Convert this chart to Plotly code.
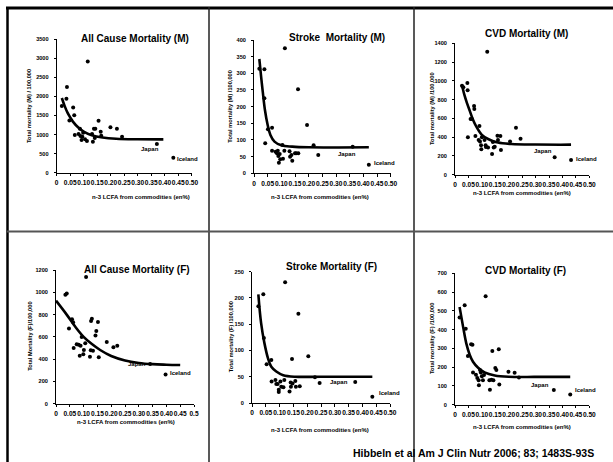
import plotly.graph_objects as go

W, H = 613, 462
FONT = "Liberation Sans, Arial, sans-serif"

# ---------------- DATA ----------------
x_ticks = [0, 0.05, 0.10, 0.15, 0.20, 0.25, 0.30, 0.35, 0.40, 0.45, 0.50]
x_ticktext = ["0", "0.05", "0.10", "0.15", "0.20", "0.25", "0.30", "0.35", "0.40", "0.45", "0.50"]
x_ticktext_f = ["0", "0.05", "0.10", "0.15", "0.20", "0.25", "0.30", "0.35", "0.40", "0.45", "0.5"]

# All cause mortality (M)
allm_x = [0.019, 0.038, 0.036, 0.047, 0.061, 0.065, 0.067, 0.081, 0.086, 0.088, 0.092, 0.095, 0.098,
          0.105, 0.112, 0.115, 0.131, 0.134, 0.138, 0.143, 0.141, 0.155, 0.163, 0.165, 0.199, 0.223, 0.242]
allm_y = [1750, 2250, 1940, 1370, 1710, 1510, 990, 1015, 1150, 960, 860, 945, 1050,
          875, 830, 2920, 1015, 815, 1155, 1155, 910, 1365, 1075, 970, 1190, 1155, 945]
allm_fit_x = [0.019, 0.03, 0.04, 0.05, 0.06, 0.08, 0.10, 0.13, 0.17, 0.22, 0.30, 0.395]
allm_fit_y = [1960, 1740, 1575, 1450, 1340, 1185, 1080, 985, 925, 892, 878, 875]
allm_japan = (0.371, 752)
allm_iceland = (0.432, 394)

# Stroke mortality (M)
strm_x = [0.0195, 0.038, 0.038, 0.041, 0.051, 0.066, 0.066, 0.079, 0.084, 0.087, 0.089, 0.091, 0.094,
          0.096, 0.104, 0.106, 0.111, 0.113, 0.130, 0.132, 0.137, 0.140, 0.150, 0.154, 0.161, 0.162,
          0.194, 0.218, 0.235]
strm_y = [314, 312, 225, 90, 132, 137, 68, 65, 60, 68, 52, 32, 58,
          42, 85, 44, 68, 375, 66, 50, 55, 38, 60, 60, 252, 60,
          145, 84, 55]
strm_fit_x = [0.0195, 0.026, 0.032, 0.04, 0.05, 0.06, 0.075, 0.10, 0.14, 0.20, 0.42]
strm_fit_y = [343, 290, 245, 190, 145, 115, 95, 84, 80, 78, 78]
strm_japan = (0.361, 80)
strm_iceland = (0.420, 26)

# CVD mortality (M)
cvdm_x = [0.026, 0.031, 0.046, 0.047, 0.048, 0.058, 0.063, 0.071, 0.072, 0.076, 0.088, 0.091, 0.093,
          0.097, 0.098, 0.100, 0.110, 0.114, 0.115, 0.120, 0.123, 0.138, 0.141, 0.144, 0.148, 0.158,
          0.160, 0.169, 0.171, 0.205, 0.227, 0.244]
cvdm_y = [949, 931, 977, 899, 398, 593, 593, 732, 700, 412, 370, 519, 355,
          313, 270, 398, 370, 313, 295, 1311, 291, 220, 348, 291, 298, 416,
          370, 412, 263, 355, 501, 384]
cvdm_fit_x = [0.026, 0.035, 0.045, 0.055, 0.065, 0.08, 0.10, 0.125, 0.16, 0.21, 0.30, 0.432]
cvdm_fit_y = [956, 850, 760, 680, 600, 510, 425, 378, 342, 327, 321, 320]
cvdm_japan = (0.371, 185)
cvdm_iceland = (0.432, 156)

# All cause mortality (F)
allf_x = [0.034, 0.039, 0.047, 0.058, 0.062, 0.064, 0.075, 0.082, 0.086, 0.089, 0.093, 0.099, 0.101,
          0.106, 0.109, 0.123, 0.126, 0.127, 0.130, 0.134, 0.143, 0.146, 0.152, 0.155, 0.184, 0.208, 0.222]
allf_y = [978, 990, 676, 757, 730, 500, 533, 530, 431, 521, 598, 443, 482,
          542, 1137, 422, 479, 742, 763, 476, 613, 652, 733, 416, 554, 506, 521]
allf_fit_x = [0.0, 0.04, 0.07, 0.10, 0.13, 0.16, 0.20, 0.25, 0.30, 0.35, 0.40, 0.45]
allf_fit_y = [925, 795, 690, 600, 535, 482, 428, 388, 366, 355, 350, 347]
allf_japan = (0.341, 356)
allf_iceland = (0.397, 263)

# Stroke mortality (F)
strf_x = [0.023, 0.041, 0.043, 0.053, 0.070, 0.071, 0.085, 0.088, 0.093, 0.097, 0.097, 0.103, 0.106,
          0.114, 0.117, 0.120, 0.136, 0.140, 0.141, 0.145, 0.147, 0.157, 0.159, 0.168, 0.173, 0.204,
          0.228, 0.245]
strf_y = [184, 207, 124, 74, 82, 41, 44, 36, 36, 21, 25, 41, 31,
          30, 44, 230, 22, 39, 31, 84, 37, 42, 31, 170, 32, 89,
          49, 38]
strf_fit_x = [0.023, 0.033, 0.045, 0.058, 0.070, 0.088, 0.113, 0.156, 0.25, 0.436]
strf_fit_y = [207, 152, 114, 85, 69, 60, 53, 50, 50, 50]
strf_japan = (0.374, 40)
strf_iceland = (0.436, 12)

# CVD mortality (F)
cvdf_x = [0.017, 0.036, 0.040, 0.048, 0.060, 0.065, 0.067, 0.078, 0.083, 0.088, 0.089, 0.093, 0.096,
          0.100, 0.104, 0.108, 0.114, 0.128, 0.130, 0.136, 0.139, 0.143, 0.150, 0.154, 0.163, 0.165,
          0.199, 0.222, 0.238]
cvdf_y = [465, 530, 405, 260, 322, 320, 172, 160, 142, 130, 103, 185, 172,
          152, 130, 158, 578, 130, 80, 133, 286, 130, 195, 185, 295, 108,
          175, 170, 145]
cvdf_fit_x = [0.017, 0.030, 0.042, 0.055, 0.067, 0.086, 0.110, 0.148, 0.20, 0.30, 0.429]
cvdf_fit_y = [520, 416, 327, 265, 229, 197, 172, 156, 149, 148, 148]
cvdf_japan = (0.368, 78)
cvdf_iceland = (0.429, 55)

titles = ["All Cause Mortality (M)", "Stroke  Mortality (M)", "CVD Mortality (M)",
          "All Cause Mortality (F)", "Stroke Mortality (F)", "CVD Mortality (F)"]
ytitles = ["Total mortality (M) / 100,000", "Total mortality (M) /100,000", "Total mortality (M) /100,000",
           "Total Mortality (F)/100,000", "Total mortality (F) /100,000", "Total mortality (F) /100,000"]
xtitle = "n-3 LCFA from commodities (en%)"
citation = "Hibbeln et al Am J Clin Nutr 2006; 83; 1483S-93S"

# ---------------- LAYOUT HELPERS ----------------
def fx(px):
    return px / W

def fy(py):
    return 1 - py / H

panels = [
    dict(l=56.7, r=191.7, b=172.7, t=39.3, ymax=3500, dt=500, tpos=(135, 39), xtpos=(140.5, 196.7), ytx=29,
         jp=(4, -5), ic=(1.5, -1), xtext=x_ticktext),
    dict(l=254, r=390.7, b=173.3, t=40, ymax=400, dt=50, tpos=(337, 37), xtpos=(320, 196.7), ytx=230,
         jp=(5.5, -7), ic=(3.5, 2), xtext=x_ticktext),
    dict(l=455, r=589.3, b=174.7, t=43.3, ymax=1400, dt=200, tpos=(526, 33.5), xtpos=(521.5, 192.7), ytx=432,
         jp=(-1, 6.5), ic=(2.5, 1), xtext=x_ticktext),
    dict(l=56, r=194, b=403.7, t=270, ymax=1200, dt=200, tpos=(137, 269.5), xtpos=(126, 422.3), ytx=30,
         jp=(-2.3, 0), ic=(2, 1.7), xtext=x_ticktext_f),
    dict(l=252, r=390, b=403, t=271.7, ymax=250, dt=50, tpos=(331, 266), xtpos=(320, 430.3), ytx=231,
         jp=(-5, 0), ic=(5, 4), xtext=x_ticktext),
    dict(l=455, r=589.3, b=404.7, t=273.3, ymax=700, dt=100, tpos=(525.5, 270), xtpos=(521.5, 426.7), ytx=432,
         jp=(-3, 4.7), ic=(3, 4.3), xtext=x_ticktext),
]

series = [
    (allm_x, allm_y, allm_fit_x, allm_fit_y, allm_japan, allm_iceland),
    (strm_x, strm_y, strm_fit_x, strm_fit_y, strm_japan, strm_iceland),
    (cvdm_x, cvdm_y, cvdm_fit_x, cvdm_fit_y, cvdm_japan, cvdm_iceland),
    (allf_x, allf_y, allf_fit_x, allf_fit_y, allf_japan, allf_iceland),
    (strf_x, strf_y, strf_fit_x, strf_fit_y, strf_japan, strf_iceland),
    (cvdf_x, cvdf_y, cvdf_fit_x, cvdf_fit_y, cvdf_japan, cvdf_iceland),
]

fig = go.Figure()
annotations = []
layout_axes = {}

for i, (p, s) in enumerate(zip(panels, series)):
    n = i + 1
    xa = "x" if n == 1 else f"x{n}"
    ya = "y" if n == 1 else f"y{n}"
    xs, ys, fxs, fys, jp, ic = s
    pts_x = xs + [jp[0], ic[0]]
    pts_y = ys + [jp[1], ic[1]]
    fig.add_trace(go.Scatter(x=pts_x, y=pts_y, mode="markers", xaxis=xa, yaxis=ya,
                             marker=dict(color="black", size=4), showlegend=False, cliponaxis=False))
    fig.add_trace(go.Scatter(x=fxs, y=fys, mode="lines", xaxis=xa, yaxis=ya,
                             line=dict(color="black", width=2.6, shape="spline", smoothing=1.0),
                             showlegend=False, cliponaxis=False))
    xkey = "xaxis" if n == 1 else f"xaxis{n}"
    ykey = "yaxis" if n == 1 else f"yaxis{n}"
    layout_axes[xkey] = dict(
        domain=[fx(p["l"]), fx(p["r"])], anchor=ya, range=[0, 0.5],
        tickmode="array", tickvals=x_ticks, ticktext=p["xtext"], tickangle=0,
        showline=True, linecolor="black", linewidth=1, ticks="outside", ticklen=2.5,
        tickcolor="black", tickwidth=1, showgrid=False, zeroline=False,
        tickfont=dict(family=FONT, size=6.6, color="black", weight="bold"), ticklabelstandoff=1,
    )
    layout_axes[ykey] = dict(
        domain=[fy(p["b"]), fy(p["t"])], anchor=xa, range=[0, p["ymax"]],
        tickmode="linear", tick0=0, dtick=p["dt"],
        showline=True, linecolor="black", linewidth=1, ticks="outside", ticklen=2,
        tickcolor="black", tickwidth=1, showgrid=False, zeroline=False,
        tickfont=dict(family=FONT, size=5.6, color="black", weight="bold"), ticklabelstandoff=4,
    )
    annotations.append(dict(text=f"<b>{titles[i]}</b>", xref="paper", yref="paper",
                            x=fx(p["tpos"][0]), y=fy(p["tpos"][1]), xanchor="center", yanchor="middle",
                            showarrow=False, font=dict(family=FONT, size=10, color="black")))
    annotations.append(dict(text=f"<b>{xtitle}</b>", xref="paper", yref="paper",
                            x=fx(p["xtpos"][0]), y=fy(p["xtpos"][1]), xanchor="center", yanchor="middle",
                            showarrow=False, font=dict(family=FONT, size=6, color="black")))
    annotations.append(dict(text=f"<b>{ytitles[i]}</b>", xref="paper", yref="paper",
                            x=fx(p["ytx"]), y=fy((p["b"] + p["t"]) / 2), xanchor="center", yanchor="middle",
                            textangle=-90, showarrow=False, font=dict(family=FONT, size=5.7, color="black")))
    annotations.append(dict(text="<b>Japan</b>", xref=xa, yref=ya, x=jp[0], y=jp[1],
                            xanchor="right", yanchor="middle", xshift=p["jp"][0], yshift=p["jp"][1],
                            showarrow=False, font=dict(family=FONT, size=6, color="black")))
    annotations.append(dict(text="<b>Iceland</b>", xref=xa, yref=ya, x=ic[0], y=ic[1],
                            xanchor="left", yanchor="middle", xshift=p["ic"][0], yshift=p["ic"][1],
                            showarrow=False, font=dict(family=FONT, size=6, color="black")))

annotations.append(dict(text=f"<b>{citation}</b>", xref="paper", yref="paper",
                        x=fx(351), y=fy(453), xanchor="left", yanchor="middle", showarrow=False,
                        font=dict(family=FONT, size=10.5, color="black")))

shapes = [
    dict(type="line", xref="paper", yref="paper", x0=fx(6), x1=1, y0=fy(8), y1=fy(8),
         line=dict(color="black", width=3)),
    dict(type="line", xref="paper", yref="paper", x0=fx(7.5), x1=fx(7.5), y0=fy(7), y1=0,
         line=dict(color="black", width=2.5)),
    dict(type="line", xref="paper", yref="paper", x0=fx(209), x1=fx(209), y0=fy(7), y1=0,
         line=dict(color="#222222", width=1.5)),
    dict(type="line", xref="paper", yref="paper", x0=fx(414), x1=fx(414), y0=fy(7), y1=0,
         line=dict(color="#222222", width=1.5)),
    dict(type="line", xref="paper", yref="paper", x0=fx(7), x1=1, y0=fy(231.5), y1=fy(231.5),
         line=dict(color="#555555", width=2)),
]

fig.update_layout(
    width=W, height=H, margin=dict(l=0, r=0, t=0, b=0, autoexpand=False),
    paper_bgcolor="white", plot_bgcolor="white",
    showlegend=False, annotations=annotations, shapes=shapes,
    font=dict(family=FONT, color="black"),
    **layout_axes,
)

fig.write_html(
    "out.html",
    config={"displayModeBar": False},
    post_script="document.body.style.margin='0';document.body.style.padding='0';"
                "document.body.style.overflow='hidden';document.documentElement.style.overflow='hidden';",
)
